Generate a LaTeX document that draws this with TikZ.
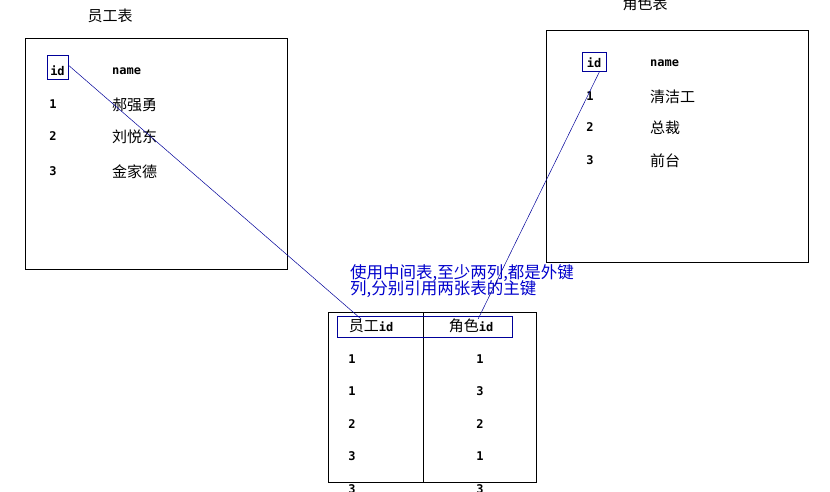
\documentclass[tikz,border=0pt]{standalone}
\usepackage{fontspec}
\newfontfamily\cjk{Noto Sans CJK SC}
\newfontfamily\pix{DejaVu Sans Mono}
\usetikzlibrary{arrows, positioning}

\begin{document}
\begin{tikzpicture}[x=1pt, y=-1pt, inner sep=1pt,
	tbl/.style={draw=black, line width=0.6pt, inner sep=0pt},
	key/.style={draw=blue!60!black, line width=0.6pt, inner sep=0pt},
	link/.style={-, draw=blue!60!black, line width=0.5pt},
	cell/.style={font=\pix\bfseries\fontsize{12}{14}\selectfont},
	zh/.style={font=\cjk\fontsize{15}{17}\selectfont},
	note/.style={font=\cjk\fontsize{16.5}{18}\selectfont, text=blue!80!black, align=left}]
	\useasboundingbox (0,0) rectangle (830,492);

	% employee table
	\node[zh] (empT) at (110,16) {员工表};
	\node[tbl, minimum width=262, minimum height=231] (emp) at (156,153.5) {};
	\node[key, minimum width=21, minimum height=24] (empId) at (57.5,67) {};
	\node[cell] at (57.5,71) {id};
	\node[cell, anchor=west] (empName) at (111,71) {name};
	\node[cell] (e1) at (53,104) {1};
	\node[cell] (e2) at (53,136) {2};
	\node[cell] (e3) at (53,171) {3};
	\node[zh, anchor=west] (n1) at (111,105) {郝强勇};
	\node[zh, anchor=west] (n2) at (111,137) {刘悦东};
	\node[zh, anchor=west] (n3) at (111,172) {金家德};

	% role table
	\node[zh] (roleT) at (645,4) {角色表};
	\node[tbl, minimum width=262, minimum height=232] (role) at (677,146) {};
	\node[key, minimum width=24, minimum height=19] (roleId) at (594,61.5) {};
	\node[cell] at (594,63) {id};
	\node[cell, anchor=west] (roleName) at (649,63) {name};
	\node[cell] (r1) at (590,96) {1};
	\node[cell] (r2) at (590,127) {2};
	\node[cell] (r3) at (590,160) {3};
	\node[zh, anchor=west] (m1) at (649,97) {清洁工};
	\node[zh, anchor=west] (m2) at (649,128) {总裁};
	\node[zh, anchor=west] (m3) at (649,161) {前台};

	% link table
	\node[note, anchor=north west] (note) at (349,263) {使用中间表,至少两列,都是外键\\[-2pt]列,分别引用两张表的主键};
	\node[tbl, minimum width=208, minimum height=170] (mid) at (432,397) {};
	\coordinate (divT) at (423,312);
	\coordinate (divB) at (423,482);
	\draw[black, line width=0.6pt] (divT) -- (divB);
	\node[key, minimum width=175, minimum height=21] (hdr) at (424.5,326.5) {};
	\node[zh, inner sep=0pt] (empHd) at (371,326) {员工\pix\bfseries\fontsize{12}{14}\selectfont id};
	\node[zh, inner sep=0pt] (roleHd) at (471,326) {角色\pix\bfseries\fontsize{12}{14}\selectfont id};
	\foreach \a/\b [count=\i] in {1/1, 1/3, 2/2, 3/1, 3/3} {
		\node[cell] (a\i) at (352, 359+32.5*\i-32.5) {\a};
		\node[cell] (b\i) at (480, 359+32.5*\i-32.5) {\b};
	}

	\draw[link] (empId.10) -- (empHd.145);
	\draw[link] (roleId.-60) -- (roleHd.45);
\end{tikzpicture}
\end{document}
